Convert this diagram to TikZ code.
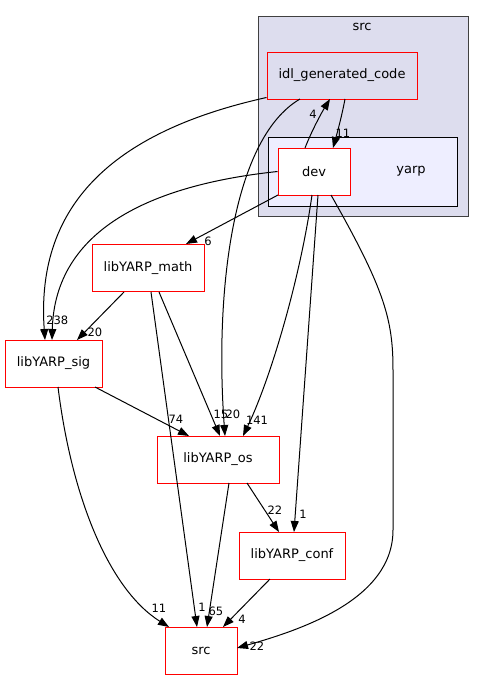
\documentclass[tikz,border=0pt]{standalone}
\usepackage{fontspec}
\setmainfont{DejaVu Sans}
\usetikzlibrary{arrows.meta, positioning}
\definecolor{clusterbg}{HTML}{DDDDEE}
\definecolor{innerbg}{HTML}{EEEEFF}

\tikzset{
  dirbox/.style={draw=red, fill=white, line width=1pt, minimum height=47pt,
    inner sep=0pt, font=\fontsize{13}{15}\selectfont},
  dep/.style={-{Triangle[length=11pt,width=8pt]}, black, line width=1pt},
  cnt/.style={font=\fontsize{11.5}{13}\selectfont, inner sep=0pt},
}

\begin{document}
\begin{tikzpicture}[x=1pt, y=-1pt]
\useasboundingbox (0,0) rectangle (485,681);

% clusters
\draw[fill=clusterbg, draw=black!75, line width=1pt] (258,16) rectangle (468,216);
\node[font=\fontsize{13}{15}\selectfont] (srclbl) at (362,27) {src};
\draw[fill=innerbg, draw=black, line width=1pt] (268,137) rectangle (457,206);
\node[font=\fontsize{13}{15}\selectfont] (yarplbl) at (411,171) {yarp};

% directories
\node[dirbox, fill=clusterbg, minimum width=150pt] (idl) at (342,75.5) {idl\_generated\_code};
\node[dirbox, minimum width=72pt] (dev) at (314,171.5) {dev};
\node[dirbox, minimum width=112pt] (math) at (148,268) {libYARP\_math};
\node[dirbox, minimum width=97pt] (sig) at (53.5,363.5) {libYARP\_sig};
\node[dirbox, minimum width=122pt] (os) at (218,459.5) {libYARP\_os};
\node[dirbox, minimum width=106pt] (conf) at (292,555.5) {libYARP\_conf};
\node[dirbox, minimum width=72pt] (src) at (201,651) {src};

% dependencies
\draw[dep] (idl.south west) ++(0,-2) .. controls (120,130) and (35,200) .. (45,340);
\draw[dep] (dev.west) .. controls (150,185) and (55,230) .. (52,340);
\draw[dep] (300,99) .. controls (230,140) and (215,300) .. (225,436);
\draw[dep] (305,148) .. controls (312,130) and (322,112) .. (330,99);
\draw[dep] (345,99) .. controls (342,115) and (338,130) .. (333,148);
\draw[dep] (278,195) -- (186,244);
\draw[dep] (312,195) .. controls (300,280) and (270,380) .. (243,436);
\draw[dep] (318,195) -- (294,532);
\draw[dep] (331,195) .. controls (385,290) and (393,320) .. (393,370)
  -- (393,530) .. controls (393,600) and (300,630) .. (237,648);
\draw[dep] (124,292) -- (77,340);
\draw[dep] (159,292) -- (220,436);
\draw[dep] (151,292) -- (197,627);
\draw[dep] (95,387) -- (189,436);
\draw[dep] (58,387) .. controls (72,500) and (110,590) .. (169,627);
\draw[dep] (229,483) -- (207,627);
\draw[dep] (247,483) -- (279,532);
\draw[dep] (270,579) -- (223,627);

% counts
\node[cnt] (c1) at (50,320) {2};
\node[cnt] (c2) at (61,320) {38};
\node[cnt] (c3) at (95,332) {20};
\node[cnt] (c4) at (208,241) {6};
\node[cnt] (c5) at (313,114) {4};
\node[cnt] (c6) at (343,133) {11};
\node[cnt] (c7) at (176,419) {74};
\node[cnt] (c8) at (221,414) {15};
\node[cnt] (c9) at (233,414) {20};
\node[cnt] (c10) at (257,420) {141};
\node[cnt] (c11) at (275,510) {22};
\node[cnt] (c12) at (303,514) {1};
\node[cnt] (c13) at (159,608) {11};
\node[cnt] (c14) at (202,607) {1};
\node[cnt] (c15) at (216,611) {65};
\node[cnt] (c16) at (242,619) {4};
\node[cnt] (c17) at (257,646) {22};
\end{tikzpicture}
\end{document}
